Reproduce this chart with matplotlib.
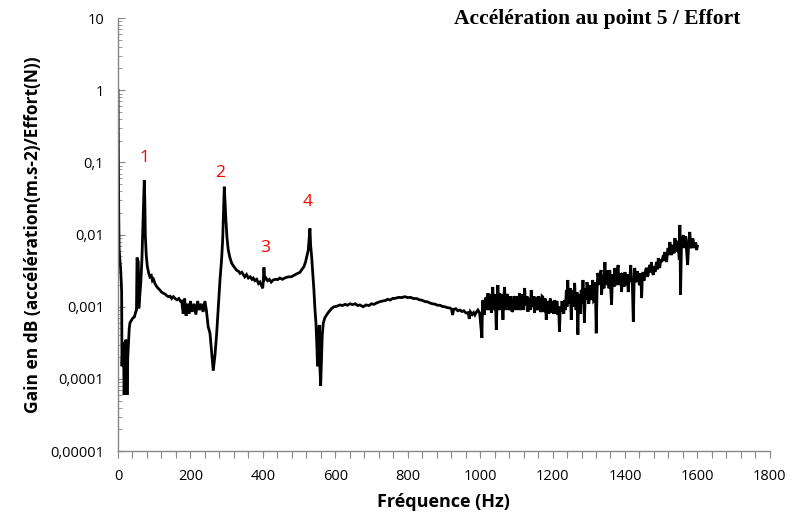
"""Frequency response: acceleration at point 5 over applied force."""

import matplotlib

matplotlib.use("Agg")

import matplotlib.pyplot as plt
import numpy as np
from matplotlib.ticker import FixedLocator, LogLocator, MultipleLocator, NullFormatter

# --- data -----------------------------------------------------------------
# smooth part, 0 - 1000 Hz
freq_low = [
    0, 1, 2, 3, 5, 7, 9, 10, 11, 13, 15, 17, 19, 21, 23, 25, 27, 29, 31, 33,
    37, 41, 45, 49, 51, 52.5, 54, 56, 57.5, 60, 63, 66, 68, 70, 72.5, 74, 75.5,
    78, 81, 85, 88, 92, 95, 98, 102, 107, 111, 116, 120, 125, 130, 135, 139,
    144, 148, 153, 158, 163, 168, 172, 176, 180, 184, 188, 192, 196, 200, 205,
    210, 215, 220, 225, 230, 235, 240, 244, 249, 254, 258, 263, 268, 272.5,
    277, 281.6, 286, 289, 291, 293.5, 296, 298, 301, 304.5, 309, 314, 320,
    327.7, 333, 337, 342, 346, 350, 355, 360, 365, 370, 373.5, 378, 383, 388,
    392, 396, 399.5, 401, 403, 405, 408.6, 413, 418, 423, 428.8, 435, 441, 447,
    454, 460, 466, 472, 478, 484, 490, 496, 502.5, 508, 513.5, 518, 521, 525.4,
    527.5, 530, 532, 534.8, 538, 541, 544, 546.7, 549, 551, 553, 555.8, 557.5,
    559.6, 562, 564, 566.8, 571, 576, 582, 590, 597, 605, 613, 620, 627, 633,
    640.5, 648, 655, 662, 668, 677, 685, 693, 700, 707, 714, 722, 730, 738,
    745, 751, 758, 766, 775, 783, 792, 800, 808, 816, 824.7, 832, 840, 848,
    855, 861, 868, 875, 882, 889, 896, 903, 910, 917, 921, 924, 927, 933, 938,
    944, 950, 955, 961, 967, 970, 973, 978, 982, 985.6, 990, 994, 998.6,
]
gain_low = [
    1.0, 0.15, 0.02, 0.0065, 0.0045, 0.0035, 0.0022, 0.0016, 0.00015, 0.00032,
    0.00028, 0.00006, 0.00025, 0.00035, 0.00033, 0.00006, 0.0002, 0.00032,
    0.0005, 0.0006, 0.00065, 0.0007, 0.00072, 0.00085, 0.0009, 0.0048, 0.0045,
    0.0042, 0.00095, 0.0014, 0.0022, 0.0045, 0.0095, 0.018, 0.057, 0.03,
    0.0095, 0.0052, 0.0036, 0.0029, 0.0026, 0.0027, 0.0023, 0.0024, 0.0021,
    0.0019, 0.0018, 0.0017, 0.0016, 0.00154, 0.0015, 0.00142, 0.00138, 0.0014,
    0.0013, 0.00138, 0.0013, 0.00125, 0.0013, 0.0012, 0.0012, 0.0008, 0.0013,
    0.00075, 0.0011, 0.0008, 0.0012, 0.00085, 0.0011, 0.00078, 0.0012, 0.0009,
    0.0011, 0.00085, 0.0012, 0.0009, 0.00053, 0.00043, 0.00025, 0.00013,
    0.00022, 0.00043, 0.001, 0.00235, 0.0045, 0.0084, 0.018, 0.046, 0.025,
    0.0159, 0.009, 0.0061, 0.0048, 0.004, 0.0036, 0.0032, 0.0031, 0.0029,
    0.003, 0.0028, 0.0026, 0.0028, 0.0025, 0.0026, 0.0024, 0.0025, 0.0023,
    0.0024, 0.0021, 0.0022, 0.002, 0.0018, 0.0022, 0.0035, 0.0024, 0.0025,
    0.0023, 0.0024, 0.0022, 0.00235, 0.0024, 0.00238, 0.0025, 0.0024, 0.0025,
    0.00256, 0.0026, 0.0026, 0.0027, 0.0028, 0.0029, 0.003, 0.0033, 0.0036,
    0.0042, 0.0049, 0.0061, 0.0085, 0.0122, 0.007, 0.0049, 0.0028, 0.0017,
    0.0009, 0.00059, 0.0003, 0.00015, 0.0003, 0.00056, 0.00015, 0.00008,
    0.0002, 0.0004, 0.00059, 0.0007, 0.00077, 0.00085, 0.00095, 0.001,
    0.00102, 0.00106, 0.00104, 0.00108, 0.00105, 0.0011, 0.00107, 0.0011,
    0.00104, 0.00106, 0.001, 0.00106, 0.00104, 0.0011, 0.00108, 0.00113,
    0.00117, 0.0012, 0.00122, 0.00127, 0.00124, 0.0013, 0.00131, 0.00135,
    0.00134, 0.00138, 0.00134, 0.00135, 0.0013, 0.0013, 0.00125, 0.00123,
    0.00118, 0.00117, 0.00113, 0.0011, 0.00109, 0.00105, 0.00105, 0.00101,
    0.001, 0.00097, 0.00096, 0.00093, 0.00077, 0.00092, 0.00094, 0.00088,
    0.0009, 0.00086, 0.00088, 0.00082, 0.00083, 0.00068, 0.00085, 0.00078,
    0.00083, 0.00077, 0.00085, 0.0009, 0.00082,
]

# noisy part, 1000 - 1600 Hz
freq_high = [
    1005, 1006.5, 1008, 1010, 1012, 1014.5, 1017, 1019, 1021.6, 1024,
    1026, 1028.5, 1031, 1033, 1035, 1037.5, 1040, 1042, 1044.6, 1047,
    1049, 1051.5, 1054, 1056, 1058, 1060.5, 1063, 1065, 1067.6, 1070,
    1072, 1074.5, 1077, 1079, 1081, 1083.5, 1086, 1088, 1090.6, 1093,
    1095, 1097.5, 1100, 1102, 1104, 1106.5, 1109, 1111, 1113.6, 1116,
    1118, 1120.5, 1123, 1125, 1127, 1129.5, 1132, 1134, 1136.6, 1139,
    1141, 1143.5, 1146, 1148, 1150, 1152.5, 1155, 1157, 1159.6, 1162,
    1164, 1166.5, 1169, 1171, 1173, 1175.5, 1178, 1180, 1182.6, 1185,
    1187, 1189.5, 1192, 1194, 1196, 1198.5, 1201, 1203, 1205.6, 1208,
    1210, 1212.5, 1215, 1217, 1219, 1221.5, 1224, 1226, 1228.6, 1231,
    1233, 1235.5, 1238, 1240, 1242, 1244.5, 1247, 1249, 1251.6, 1254,
    1256, 1258.5, 1261, 1263, 1265, 1267.5, 1270, 1272, 1274.6, 1277,
    1279, 1281.5, 1284, 1286, 1288, 1290.5, 1293, 1295, 1297.6, 1300,
    1302, 1304.5, 1307, 1309, 1311, 1313.5, 1316, 1318, 1320.6, 1323,
    1325, 1330, 1332, 1334, 1335.4, 1338, 1340, 1342, 1344.6, 1347,
    1349, 1351.5, 1354, 1356, 1358, 1360.5, 1363, 1365.5, 1368, 1370,
    1372, 1374.5, 1377, 1379, 1381, 1383.5, 1386, 1388, 1390.6, 1393,
    1395, 1397.5, 1400, 1402, 1404, 1406.5, 1409, 1411.5, 1414, 1416,
    1418, 1420, 1423, 1425.6, 1427, 1429.5, 1432, 1434, 1436.6, 1439,
    1441, 1443.5, 1446, 1448, 1450, 1452.5, 1455, 1457.5, 1460, 1462,
    1464, 1466.5, 1469, 1471, 1473, 1475.5, 1478, 1480.5, 1483, 1485,
    1487, 1489.5, 1492, 1494, 1496, 1498.5, 1501, 1503.5, 1506, 1508,
    1510, 1512.5, 1515, 1517, 1519, 1521.5, 1524, 1526.5, 1529, 1531,
    1533, 1535.5, 1538, 1540, 1542, 1544.5, 1547, 1550, 1551.6, 1553.4,
    1556, 1558.5, 1561, 1563, 1565, 1567.5, 1570, 1573, 1576.5, 1579,
    1581.5, 1584, 1586, 1588.6, 1591, 1593, 1595.5, 1598, 1600,
]
gain_high = [
    0.00037, 0.0011, 0.00124, 0.0009, 0.00077, 0.0013, 0.00132, 0.0009, 0.00155, 0.0009,
    0.001, 0.0015, 0.00082, 0.0014, 0.00188, 0.0009, 0.00106, 0.0015, 0.00048, 0.0012,
    0.002, 0.0009, 0.00155, 0.0009, 0.00106, 0.0015, 0.00066, 0.0013, 0.00188, 0.0009,
    0.00116, 0.0015, 0.00137, 0.0009, 0.00096, 0.0014, 0.00113, 0.00085, 0.0009, 0.0014,
    0.00132, 0.0009, 0.00124, 0.0014, 0.0009, 0.0012, 0.00155, 0.0009, 0.001, 0.0015,
    0.00124, 0.0009, 0.00182, 0.0011, 0.00106, 0.0014, 0.00085, 0.0012, 0.00132, 0.0009,
    0.00171, 0.001, 0.00106, 0.0014, 0.00082, 0.0012, 0.00137, 0.0009, 0.00096, 0.0014,
    0.00113, 0.00085, 0.0009, 0.0014, 0.00137, 0.00085, 0.0009, 0.0013, 0.00066, 0.0012,
    0.00106, 0.0008, 0.00113, 0.0013, 0.00082, 0.0012, 0.00096, 0.0008, 0.00124, 0.0008,
    0.00113, 0.0012, 0.00077, 0.001, 0.00045, 0.001, 0.00085, 0.0012, 0.001, 0.0008,
    0.00124, 0.0009, 0.00171, 0.001, 0.00235, 0.0011, 0.00124, 0.0018, 0.00066, 0.0017,
    0.00146, 0.001, 0.00214, 0.0012, 0.0009, 0.0016, 0.00041, 0.0015, 0.00113, 0.0008,
    0.00171, 0.0011, 0.00235, 0.0012, 0.0006, 0.0018, 0.00124, 0.0022, 0.00171, 0.0011,
    0.00137, 0.002, 0.00124, 0.0016, 0.00235, 0.0012, 0.00124, 0.0022, 0.00043, 0.0018,
    0.00294, 0.002, 0.0028, 0.00323, 0.00146, 0.0024, 0.00276, 0.0018, 0.00417, 0.002,
    0.00235, 0.0032, 0.0022, 0.0018, 0.00323, 0.0018, 0.00106, 0.0028, 0.00235, 0.0019,
    0.00345, 0.0021, 0.002, 0.0031, 0.00379, 0.002, 0.00235, 0.0029, 0.0016, 0.0028,
    0.00276, 0.0019, 0.00303, 0.0022, 0.002, 0.0028, 0.0016, 0.0025, 0.00276, 0.00379,
    0.0022, 0.00235, 0.00062, 0.00276, 0.00345, 0.0022, 0.00235, 0.0031, 0.00276, 0.0021,
    0.002, 0.0029, 0.00132, 0.0027, 0.00303, 0.0023, 0.00276, 0.0033, 0.00345, 0.0026,
    0.00276, 0.0035, 0.00379, 0.003, 0.00417, 0.0031, 0.00276, 0.0036, 0.00303, 0.0036,
    0.00417, 0.0033, 0.00474, 0.0037, 0.00345, 0.0045, 0.00417, 0.0046, 0.0052, 0.0043,
    0.00574, 0.0048, 0.00417, 0.0055, 0.00652, 0.0052, 0.0079, 0.0058, 0.0052, 0.0072,
    0.0067, 0.0055, 0.00897, 0.0062, 0.0061, 0.0082, 0.00718, 0.00445, 0.0136, 0.00146,
    0.00718, 0.0085, 0.00987, 0.0065, 0.0079, 0.0095, 0.0061, 0.00379, 0.0084, 0.01087,
    0.0068, 0.00652, 0.0088, 0.0084, 0.0065, 0.00718, 0.0078, 0.0061, 0.0069,
]

mode_labels = ["1", "2", "3", "4"]
mode_freqs = [72.5, 293.5, 403, 530]

ytick_values = [1e-5, 1e-4, 1e-3, 1e-2, 1e-1, 1, 10]
ytick_labels = ["0,00001", "0,0001", "0,001", "0,01", "0,1", "1", "10"]

# --- figure -----------------------------------------------------------------
plt.rcParams["font.family"] = ["Open Sans", "DejaVu Sans"]

freq = np.array(freq_low + freq_high)
gain = np.array(gain_low + gain_high)

fig = plt.figure(figsize=(7.92, 5.15), dpi=100)
ax = fig.add_axes([0.149, 0.124, 0.823, 0.841])

ax.plot(freq, gain, color="black", linewidth=2.0, solid_joinstyle="miter")

ax.set_yscale("log")
ax.set_ylim(1e-5, 10)
ax.set_xlim(0, 1800)

ax.xaxis.set_major_locator(MultipleLocator(200))
ax.xaxis.set_minor_locator(MultipleLocator(40))
ax.yaxis.set_major_locator(FixedLocator(ytick_values))
ax.set_yticklabels(ytick_labels)
ax.yaxis.set_minor_locator(LogLocator(base=10, subs=np.arange(2, 10)))
ax.yaxis.set_minor_formatter(NullFormatter())

axis_grey = "#868686"
for side in ("top", "right"):
    ax.spines[side].set_visible(False)
for side in ("left", "bottom"):
    ax.spines[side].set_color(axis_grey)
    ax.spines[side].set_linewidth(1.0)

ax.tick_params(axis="x", which="both", direction="out", length=5, width=0.8,
               color=axis_grey, labelsize=10.5, pad=8)
ax.tick_params(axis="y", which="major", direction="in", length=5, width=0.8,
               color=axis_grey, labelsize=10.5, pad=10)
ax.tick_params(axis="y", which="minor", direction="in", length=3, width=0.6,
               color=axis_grey)

ax.set_xlabel("Fréquence (Hz)", fontsize=13, fontweight="bold", labelpad=6)
ax.set_ylabel("Gain en dB (accélération(m.s-2)/Effort(N))", fontsize=12.5,
              fontweight="bold", labelpad=6)

# mode numbers above each resonance peak
label_offsets = [(0, 10), (-3, 4), (1, 8), (-2, 13)]
for text, f0, off in zip(mode_labels, mode_freqs, label_offsets):
    idx = int(np.argmin(np.abs(freq - f0)))
    ax.annotate(text, xy=(freq[idx], gain[idx]), xytext=off,
                textcoords="offset points", ha="center", va="bottom",
                color="red", fontsize=12.5)

fig.text(0.754, 0.963, "Accélération au point 5 / Effort",
         family="Liberation Serif", fontweight="bold", fontsize=15.5,
         ha="center", va="center")

fig.savefig("out.png", dpi=100)
